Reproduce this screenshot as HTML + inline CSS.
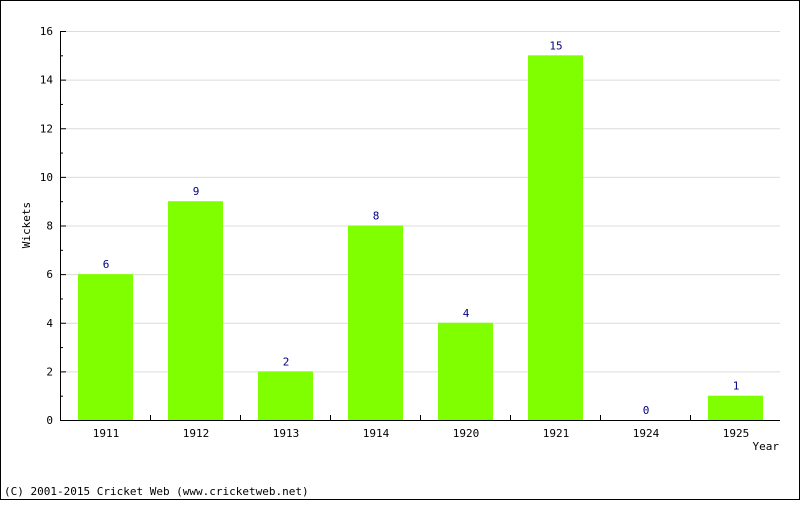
<!DOCTYPE html>
<html><head><meta charset="utf-8"><style>
body{margin:0;background:#fff}
svg text{font-family:"DejaVu Sans Mono","Liberation Mono",monospace;font-size:11px}
</style></head><body>
<svg width="800" height="500" viewBox="0 0 800 500">
<rect x="0.5" y="0.5" width="799" height="499" fill="#fff" stroke="#000"/>
<g id="grid"></g><g id="bars"></g><g id="axes"></g>
<text x="30" y="225" transform="rotate(-90 30 225)" text-anchor="middle">Wickets</text>
<text x="779" y="450" text-anchor="end">Year</text>
<text x="4" y="495">(C) 2001-2015 Cricket Web (www.cricketweb.net)</text>
</svg>
<script>
const categories=["1911","1912","1913","1914","1920","1921","1924","1925"];
const wickets=[6,9,2,8,4,15,0,1];
const yTicks=[0,2,4,6,8,10,12,14,16];
const NS="http://www.w3.org/2000/svg";
const x0=60,x1=780,y0=420,yTop=31,yMax=16;
const bw=(x1-x0)/categories.length;
const y=v=>y0-(v/yMax)*(y0-yTop);
function mk(t,a,p){const e=document.createElementNS(NS,t);for(const k in a)e.setAttribute(k,a[k]);p.appendChild(e);return e;}
const grid=document.getElementById('grid'),bars=document.getElementById('bars'),axes=document.getElementById('axes');
yTicks.forEach(v=>{
 if(v>0){const g=mk('line',{x1:x0,x2:x1,y1:y(v)+.5,y2:y(v)+.5,stroke:'#dcdcdc'},grid);
 
 }
 const t=mk('line',{x1:x0,x2:x0+6,y1:y(v)+.5,y2:y(v)+.5,stroke:'#000'},axes);
 
 
 const l=mk('text',{x:x0-7,y:y(v)+4,'text-anchor':'end'},axes);l.textContent=v;
 
 
});
for(let v=1;v<yMax;v+=2){const m=mk('line',{x1:x0,x2:x0+3,y1:y(v)+.5,y2:y(v)+.5,stroke:'#000'},axes);
 
 }
categories.forEach((c,i)=>{
 const cx=x0+bw*i+bw/2,v=wickets[i];
 if(v>0){const r=mk('rect',{x:cx-27,y:y(v),width:55,height:y0-y(v),fill:'#80ff00'},bars);
 
 }
 const vl=mk('text',{x:cx+1,y:y(v)-6,'text-anchor':'middle',fill:'#000080'},bars);vl.textContent=v;
 
 
 const cl=mk('text',{x:cx+1,y:y0+17,'text-anchor':'middle'},axes);cl.textContent=c;
 
 
 if(i>0){const t=mk('line',{x1:x0+bw*i+.5,x2:x0+bw*i+.5,y1:y0,y2:y0-5,stroke:'#000'},axes);
 
 }
});
const ya=mk('line',{x1:x0+.5,x2:x0+.5,y1:yTop,y2:y0+.5,stroke:'#000'},axes);


const xa=mk('line',{x1:x0,x2:x1,y1:y0+.5,y2:y0+.5,stroke:'#000'},axes);


</script>
</body></html>
